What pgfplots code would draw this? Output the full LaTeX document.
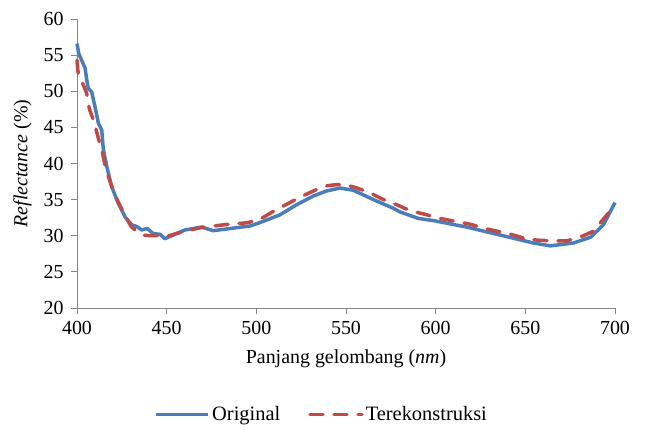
\documentclass[border=0pt]{standalone}
\usepackage{pgfplots}
\pgfplotsset{compat=1.18}
\usepackage{fontspec}
\setmainfont{Liberation Serif}
\definecolor{oblue}{RGB}{74,126,187}
\definecolor{ored}{RGB}{190,75,72}
\definecolor{axgray}{RGB}{134,134,134}
\newcommand{\cf}{\fontsize{20}{24}\selectfont}
\newcommand{\lf}{\fontsize{20.5}{24}\selectfont}
\begin{document}
\begin{tikzpicture}
\begin{axis}[
  scale only axis, width=538bp, height=289bp,
  xmin=400, xmax=700, ymin=20, ymax=60,
  xtick={400,450,...,700}, ytick={20,25,...,60},
  axis x line=bottom, axis y line=left,
  axis line style={-, draw=axgray, line width=0.9bp},
  tick style={draw=axgray, line width=0.9bp},
  tick align=outside, major tick length=6bp,
  x tick label style={font=\cf, yshift=-4bp},
  y tick label style={font=\cf, xshift=-4bp},
  /pgf/number format/assume math mode=true,
  /pgf/number format/1000 sep={},
  xlabel={Panjang gelombang (\textit{nm})},
  ylabel={\textit{Reflectance} (\%)},
  label style={font=\cf},
  xlabel shift=8bp,
  ylabel shift=5bp,
  clip=false,
  legend style={at={(0.455,-0.368)}, anchor=center, draw=none, font=\lf,
    legend columns=2, /tikz/every even column/.append style={column sep=26bp},
    inner sep=0pt},
  legend image code/.code={\draw[#1] (0bp,0bp) -- (52bp,0bp);},
]
\addplot[oblue, line width=3.5bp, line join=round] coordinates {
(400,56.6) (401,55.2) (402.6,54.3) (404.5,53.2) (405.5,51.5) (406.3,50.4)
(408.2,49.9) (410,47.9) (411.9,45.6) (413.8,44.6) (414.7,41.9) (416.6,39.6)
(419.3,36.8) (423,34.5) (426.8,32.6) (430.5,31.5) (433.2,31.3) (436,30.8)
(439.2,31.0) (442.5,30.3) (446.3,30.2) (449,29.6) (452.8,30.0) (456.5,30.4)
(460.2,30.8) (464.9,31.0) (469.5,31.2) (476,30.7) (485.3,31.0) (496.5,31.35)
(503.9,32.0) (513.2,32.9) (522.5,34.3) (531.8,35.5) (539.2,36.2) (546.7,36.6)
(554.1,36.3) (565.3,35.0) (576.4,33.8) (580.1,33.3) (590.3,32.4) (598.7,32.1)
(617.3,31.2) (635.9,30.1) (654.5,29.0) (663.9,28.6) (676.9,29.0) (686.4,29.8)
(693.5,31.5) (700,34.6)
};
\addlegendentry{Original}
\addplot[ored, line width=3.5bp, line cap=round, dash pattern=on 13bp off 11bp, smooth, tension=0.3] coordinates {
(400,54.3) (400.7,52.5) (402.6,51.4) (405.4,49.7) (406.9,47.6) (409.7,45.6)
(411.9,43.5) (414.3,41.4) (415.6,39.8) (418.4,37.5) (421.2,35.6) (425.8,33.3)
(430.5,31.2) (437,30.1) (445,30.0) (451,30.0) (458,30.5) (468.6,31.1)
(478,31.4) (485,31.6) (494.6,31.8) (502,32.3) (510.4,33.5) (523.4,35.2)
(531.8,36.2) (539.2,36.9) (547.5,37.1) (555,36.7) (563.6,35.9) (571,35.0)
(578.2,34.3) (585.7,33.5) (595,32.9) (602.4,32.4) (610.8,32.0) (619.1,31.6)
(627.5,31.0) (640.5,30.3) (648.9,29.7) (656.3,29.4) (665.6,29.3) (673.1,29.3)
(682.3,30.0) (688.9,30.8) (692.5,32.0) (700,34.2)
};
\addlegendentry{Terekonstruksi}
\coordinate (sw) at (rel axis cs:0,0);
\coordinate (ne) at (rel axis cs:1,1);
\end{axis}
\pgfresetboundingbox
\path[use as bounding box] ([shift={(-77bp,-122bp)}]sw) rectangle ([shift={(33bp,19bp)}]ne);
\end{tikzpicture}
\end{document}
